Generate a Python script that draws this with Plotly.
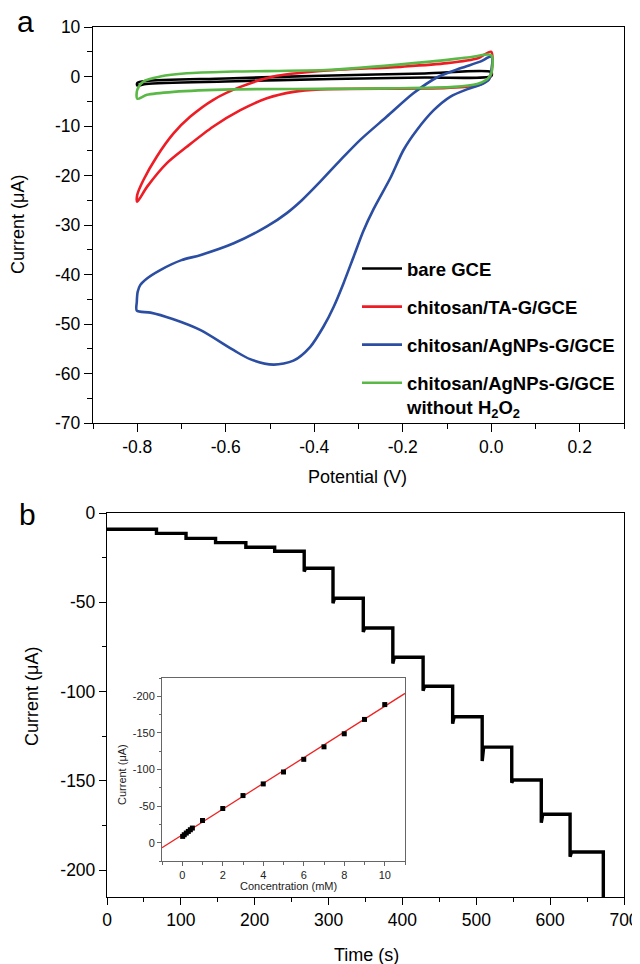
import plotly.graph_objects as go

# ---------------- Panel a: cyclic voltammograms ----------------
bare_v = [-0.80, -0.78, -0.60, -0.36, -0.15, 0.0, 0.0, -0.15, -0.36, -0.60, -0.78, -0.80, -0.80]
bare_i = [-1.3, -0.9, -0.4, 0.2, 0.6, 0.9, 0.1, -0.2, -0.5, -1.0, -1.5, -1.8, -1.3]

ta_v = [0.0, -0.005, -0.03, -0.10, -0.386, -0.447, -0.507, -0.567, -0.628, -0.688, -0.733, -0.778, -0.80,
        -0.80, -0.786, -0.756, -0.718, -0.680, -0.628, -0.567, -0.492, -0.386, -0.20, -0.10, -0.03, 0.0, 0.0]
ta_i = [0.6, -0.5, -1.7, -2.3, -2.6, -3.1, -4.4, -6.8, -10.1, -14.2, -17.5, -22.3, -25.3,
        -23.9, -20.9, -16.2, -11.5, -8.1, -4.7, -2.1, 0.0, 1.1, 2.0, 2.7, 3.7, 5.0, 0.6]

ag_v = [0.0, -0.006, -0.025, -0.055, -0.093, -0.130, -0.168, -0.198, -0.228, -0.266, -0.289, -0.311,
        -0.334, -0.356, -0.379, -0.409, -0.447, -0.492, -0.545, -0.582, -0.658, -0.720, -0.770, -0.801,
        -0.801, -0.799, -0.793, -0.778, -0.748, -0.700, -0.658, -0.582, -0.507, -0.462, -0.428, -0.386,
        -0.341, -0.296, -0.236, -0.176, -0.123, -0.070, -0.025, 0.0, 0.0]
ag_i = [1.0, -0.7, -1.7, -2.6, -4.1, -6.8, -10.8, -14.8, -20.5, -26.8, -31.2, -36.4,
        -41.8, -46.5, -50.5, -54.6, -57.4, -58.2, -57.1, -55.3, -51.2, -49.0, -47.7, -47.3,
        -45.5, -43.5, -42.1, -40.8, -39.1, -37.1, -36.1, -33.7, -30.3, -27.6, -25.0, -21.2,
        -16.9, -12.8, -8.1, -3.4, -0.2, 1.65, 3.0, 4.0, 1.0]

noh2o2_v = [0.0, -0.01, -0.032, -0.085, -0.236, -0.386, -0.583, -0.718, -0.778, -0.80,
            -0.80, -0.786, -0.748, -0.688, -0.58, -0.364, -0.138, -0.048, 0.0, 0.0]
noh2o2_i = [0.6, -0.6, -1.5, -2.1, -2.4, -2.5, -2.6, -3.1, -3.7, -4.5,
            -2.7, -1.0, 0.0, 0.65, 1.0, 1.35, 3.0, 3.9, 4.3, 0.6]

cv_names = ["bare GCE", "chitosan/TA-G/GCE", "chitosan/AgNPs-G/GCE",
            "chitosan/AgNPs-G/GCE<br>without H<sub>2</sub>O<sub>2</sub>"]
cv_colors = ["#000000", "#ee1c25", "#2b4ea2", "#5ab946"]

cv_xticks = [-0.8, -0.6, -0.4, -0.2, 0.0, 0.2]
cv_xticklabels = ["-0.8", "-0.6", "-0.4", "-0.2", "0.0", "0.2"]
cv_yticks = [10, 0, -10, -20, -30, -40, -50, -60, -70]
cv_yticklabels = ["10", "0", "-10", "-20", "-30", "-40", "-50", "-60", "-70"]

# ---------------- Panel b: amperometric response ----------------
step_times = [67, 107, 147, 188, 227, 267, 306, 347, 387, 428, 468, 508, 548, 588, 627]
plateau_current = [-9.1, -11.4, -14.2, -16.6, -19.2, -21.4, -30.9, -47.7, -64.4, -80.8,
                   -97.0, -114.1, -131.1, -149.5, -168.7, -189.8]
step_overshoot = [0, 0, 0, 0, 0, 1.9, 2.8, 2.2, 3.5, 2.5, 3.9, 7.8, 1.5, 4.7, 2.6]
end_time = 672
end_current = -240

amp_xticks = [0, 100, 200, 300, 400, 500, 600, 700]
amp_xticklabels = ["0", "100", "200", "300", "400", "500", "600", "700"]
amp_yticks = [0, -50, -100, -150, -200]
amp_yticklabels = ["0", "-50", "-100", "-150", "-200"]

# inset: calibration
inset_conc = [0.02, 0.1, 0.2, 0.3, 0.4, 0.5, 1, 2, 3, 4, 5, 6, 7, 8, 9, 10]
inset_current = [-8.6, -10.9, -13.2, -15.4, -17.7, -20.0, -30.3, -46.7, -64.4, -80.3,
                 -96.6, -113.9, -131.0, -148.8, -168.4, -188.7]
fit_slope = -17.58
fit_intercept = -10.6
fit_x = [-1, 11]

inset_xticks = [0, 2, 4, 6, 8, 10]
inset_xticklabels = ["0", "2", "4", "6", "8", "10"]
inset_yticks = [0, -50, -100, -150, -200]
inset_yticklabels = ["0", "-50", "-100", "-150", "-200"]

FONT = "Liberation Sans, Arial, sans-serif"
PAGE_OFF = 8                      # default page margin around the figure
W, H = 640 - PAGE_OFF, 964 - PAGE_OFF


def fx(p):
    return (p - PAGE_OFF) / W


def fy(p):
    return 1 - (p - PAGE_OFF) / H


fig = go.Figure()

cv_data = [(bare_v, bare_i), (ta_v, ta_i), (ag_v, ag_i), (noh2o2_v, noh2o2_i)]
for k, ((vv, ii), name, col) in enumerate(zip(cv_data, cv_names, cv_colors)):
    fig.add_trace(go.Scatter(x=vv, y=ii, mode="lines", name=name,
                             line=dict(color=col, width=2.6, shape="spline", smoothing=0.8),
                             xaxis="x", yaxis="y", legendgroup=f"g{k}", showlegend=True))

# build step curve
sx = [0]
sy = [plateau_current[0]]
for k, t in enumerate(step_times):
    sx += [t, t, t + 2]
    sy += [plateau_current[k], plateau_current[k + 1] - step_overshoot[k], plateau_current[k + 1]]
sx += [end_time, end_time]
sy += [plateau_current[-1], end_current]
fig.add_trace(go.Scatter(x=sx, y=sy, mode="lines", line=dict(color="black", width=3.4),
                         xaxis="x2", yaxis="y2", showlegend=False))

fig.add_trace(go.Scatter(x=fit_x, y=[fit_intercept + fit_slope * v for v in fit_x], mode="lines",
                         line=dict(color="#ee2222", width=1.3), xaxis="x3", yaxis="y3", showlegend=False))
fig.add_trace(go.Scatter(x=inset_conc, y=inset_current, mode="markers",
                         marker=dict(symbol="square", size=5, color="black"),
                         xaxis="x3", yaxis="y3", showlegend=False))

tickfont = dict(family=FONT, size=17.5, color="black")
small = dict(family=FONT, size=11, color="#222")
common = dict(showline=True, linecolor="black", linewidth=1.3, mirror=True, ticks="outside",
              tickcolor="black", tickwidth=1.3, showgrid=False, zeroline=False, tickfont=tickfont,
              automargin=False, tickmode="array")
inset_common = dict(showline=True, linecolor="#666", linewidth=1, mirror=True, ticks="outside",
                    tickcolor="#666", ticklen=4, showgrid=False, zeroline=False, tickfont=small,
                    automargin=False, tickmode="array")


def ann(text, px, py, size=18, angle=0, weight="normal", color="black"):
    return dict(text=text, x=fx(px), y=fy(py), xref="paper", yref="paper", showarrow=False,
                xanchor="center", yanchor="middle", textangle=angle,
                font=dict(family=FONT, size=size, color=color, weight=weight))


fig.update_layout(
    width=W, height=H, margin=dict(l=0, r=0, t=0, b=0, autoexpand=False),
    paper_bgcolor="white", plot_bgcolor="white",
    xaxis=dict(domain=[fx(93), fx(624)], anchor="y", range=[-0.9, 0.3],
               tickvals=cv_xticks, ticktext=cv_xticklabels, ticklen=8,
               minor=dict(dtick=0.1, tick0=-0.8, ticklen=5, ticks="outside", tickcolor="black"),
               **common),
    yaxis=dict(domain=[fy(423), fy(27)], anchor="x", range=[-70, 10],
               tickvals=cv_yticks, ticktext=cv_yticklabels, ticklen=8,
               minor=dict(dtick=5, tick0=0, ticklen=5, ticks="outside", tickcolor="black"),
               **common),
    xaxis2=dict(domain=[fx(107), fx(624)], anchor="y2", range=[0, 700],
                tickvals=amp_xticks, ticktext=amp_xticklabels, ticklen=7,
                minor=dict(dtick=50, tick0=0, ticklen=4, ticks="outside", tickcolor="black"),
                **common),
    yaxis2=dict(domain=[fy(897), fy(513)], anchor="x2", range=[-215, 0],
                tickvals=amp_yticks, ticktext=amp_yticklabels, ticklen=7,
                minor=dict(dtick=25, tick0=0, ticklen=4, ticks="outside", tickcolor="black"),
                **common),
    xaxis3=dict(domain=[fx(162), fx(405)], anchor="y3", range=[-1, 11],
                tickvals=inset_xticks, ticktext=inset_xticklabels,
                minor=dict(dtick=1, tick0=0, ticklen=2.5, ticks="outside", tickcolor="#666"),
                **inset_common),
    yaxis3=dict(domain=[fy(861), fy(678)], anchor="x3", range=[25, -225],
                tickvals=inset_yticks, ticktext=inset_yticklabels,
                minor=dict(dtick=25, tick0=0, ticklen=2.5, ticks="outside", tickcolor="#666"),
                **inset_common),
    legend=dict(x=fx(357), y=fy(250), xanchor="left", yanchor="top",
                font=dict(family=FONT, size=18.5, color="black", weight="bold"),
                bgcolor="rgba(0,0,0,0)", tracegroupgap=11, itemwidth=40, valign="top"),
    annotations=[
        ann("a", 25, 22, size=30),
        ann("b", 27, 514, size=30),
        ann("Potential (V)", 358, 477),
        ann("Current (μA)", 18, 225, angle=-90),
        ann("Time (s)", 366, 955),
        ann("Current (μA)", 32, 697, angle=-90),
        ann("Concentration (mM)", 288, 886, size=11, color="#222"),
        ann("Current (μA)", 122, 775, size=11, angle=-90, color="#222"),
    ],
)

fig.write_html("out.html")
